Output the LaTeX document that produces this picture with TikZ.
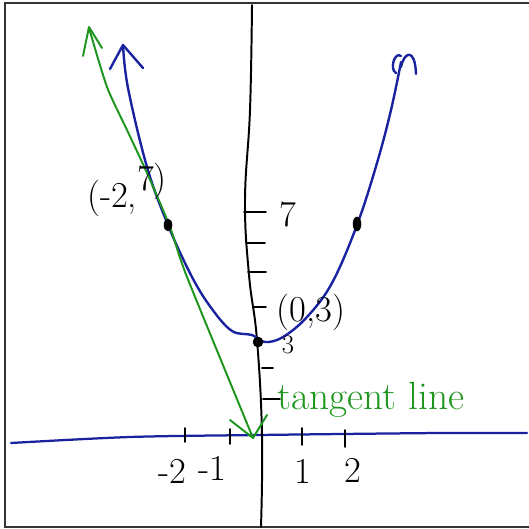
\documentclass[tikz,border=0pt]{standalone}
\usepackage{tikz}
\usetikzlibrary{arrows.meta}
\definecolor{penblue}{RGB}{25,35,160}
\definecolor{pengreen}{RGB}{30,150,30}
\tikzset{
  % --- Khung va truc ----------------------------------------
  frameline/.style={line width=1.4pt, black!80},
  axisy/.style={line width=1.4pt, black, line cap=round},
  axisx/.style={line width=1.6pt, penblue, line cap=round},
  tickm/.style={line width=1.3pt, black, line cap=round},
  % --- Duong cong / tiep tuyen ------------------------------
  curveb/.style={line width=1.7pt, penblue, line cap=round, line join=round},
  tanline/.style={line width=1.4pt, pengreen, line cap=round, line join=round},
  dotpt/.style={fill=black, draw=black},
  % --- Chu --------------------------------------------------
  hand/.style={font=\fontsize{26}{28}\selectfont, inner sep=0pt},
  handsm/.style={font=\fontsize{19}{21}\selectfont, inner sep=0pt},
  handg/.style={font=\fontsize{28}{30}\selectfont, text=pengreen, inner sep=0pt}
}

\begin{document}
\begin{tikzpicture}[x=0.25mm, y=-0.25mm]
  \useasboundingbox (0,0) rectangle (529,529);

  % ---------- Khung ----------
  \draw[frameline] (529,3) -- (5,3) -- (5,527) -- (529,527);

  % ---------- Truc Ox, Oy ----------
  \draw[axisx] plot[smooth] coordinates
    {(11,443) (130,437) (258,435) (440,433) (527,433)};
  \draw[axisy] plot[smooth, tension=0.7] coordinates
    {(252,5) (250,110) (245,200) (249,275) (257,340) (262,435) (261,527)};

  % ---------- Vach chia ----------
  \foreach \ya/\xa/\xb in {212/244/266, 243/246/265, 272/248/266,
                            307/253/266, 368/262/273, 399/263/280}
    \draw[tickm] (\xa,\ya) -- (\xb,\ya);
  \foreach \xa/\ya/\yb in {185/428/442, 230/429/444, 302/428/445, 345/430/447}
    \draw[tickm] (\xa,\ya) -- (\xa,\yb);

  % ---------- Parabol ----------
  \draw[curveb] plot[smooth, tension=0.6] coordinates
    {(123,45) (128,88) (147,167) (168,225) (192,277) (212,309)
     (232,331) (252,335) (265,342) (283,337) (307,317) (332,283)
     (357,225) (377,163) (391,110) (401,62)};
  \draw[curveb] (110,69) -- (123,45) -- (143,68);
  \draw[curveb] (396,73) .. controls (389,69) and (395,51) .. (401,56);
  \draw[curveb] (401,67) .. controls (404,52) and (415,47) .. (416,74);

  % ---------- Tiep tuyen ----------
  \draw[tanline] plot[smooth, tension=0.4] coordinates
    {(89,28) (107,87) (127,130) (147,173) (170,227) (187,277) (253,438)};
  \draw[tanline] (83,56) -- (89,27) -- (102,48);
  \draw[tanline] (230,420) -- (253,438) -- (267,415);

  % ---------- Diem ----------
  \fill[dotpt] (168,225) ellipse [x radius=4, y radius=6];
  \fill[dotpt] (357,224) ellipse [x radius=4, y radius=7];
  \filldraw[dotpt] (258,342) circle [radius=5];

  % ---------- Nhan ----------
  \node[hand] (lbl27) at (127,190) {(-2,\raisebox{1.1ex}{7)}};
  \node[hand] (lbl03) at (311,312) {(0,3)};
  \node[hand] (lbl7) at (288,214) {7};
  \node[handsm] (lbl3) at (288,345) {3};
  \node[handg] (lbltan) at (371,400) {tangent line};
  \node[hand] (lblm2) at (172,471) {-2};
  \node[hand] (lblm1) at (212,468) {-1};
  \node[hand] (lblp1) at (303,471) {1};
  \node[hand] (lblp2) at (353,470) {2};

\end{tikzpicture}
\end{document}
